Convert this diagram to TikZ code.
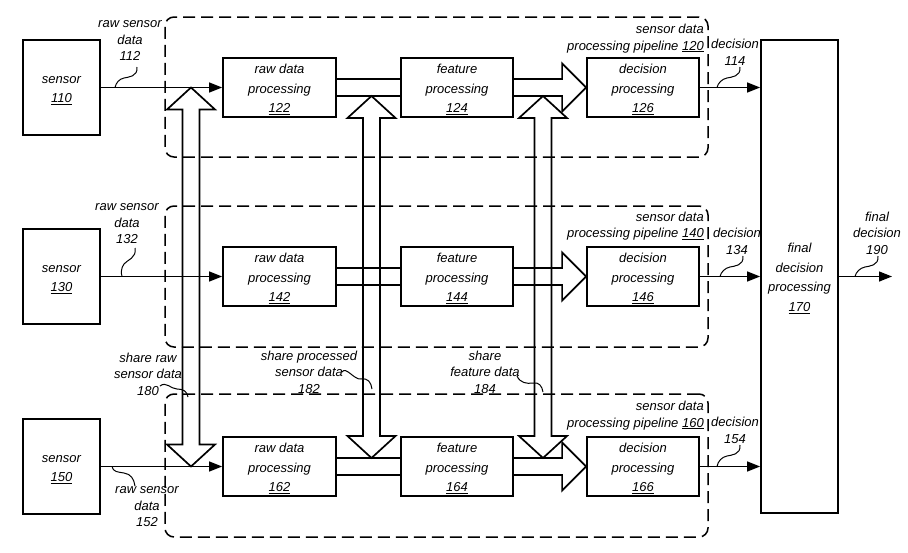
\documentclass[tikz,border=0pt]{standalone}
\usepackage{fontspec}
\setmainfont{Liberation Sans}
\usetikzlibrary{arrows.meta,calc}
\newcommand\blockdbl[3]{% x, y of top tip, y of bottom tip
  \draw[blk] (#1,#2) -- ({#1+24},{#2+22}) -- ({#1+8.5},{#2+22}) -- ({#1+8.5},{#3-22})
    -- ({#1+24},{#3-22}) -- (#1,#3) -- ({#1-24},{#3-22}) -- ({#1-8.5},{#3-22})
    -- ({#1-8.5},{#2+22}) -- ({#1-24},{#2+22}) -- cycle;}
\newcommand\tstrut{\rule{0pt}{13.5pt}}
\begin{document}
\begin{tikzpicture}[x=1pt,y=-1pt,
  box/.style={draw,line width=1.8pt,inner sep=0pt,align=center,font=\itshape\fontsize{13}{19.5}\selectfont},
  lbl/.style={inner sep=0pt,align=center,font=\itshape\fontsize{13}{16.5}\selectfont},
  pipe/.style={draw,dash pattern=on 12pt off 6pt,line width=1.5pt,rounded corners=9pt,inner sep=0pt},
  conn/.style={line width=1.4pt,-{Triangle[length=13pt,width=10pt]}},
  blk/.style={line width=1.7pt,line join=miter},
  sq/.style={line width=1pt},
]
\useasboundingbox (0,0) rectangle (908,552);
% pipelines
\node[pipe,minimum width=543pt,minimum height=140pt] (p120) at (436.5,87) {};
\node[pipe,minimum width=543pt,minimum height=141pt] (p140) at (436.5,276.5) {};
\node[pipe,minimum width=543pt,minimum height=143pt] (p160) at (436.5,465.5) {};
% sensors
\node[box,minimum width=77pt,minimum height=95pt] (s110) at (61.5,87.5) {\tstrut sensor\\\underline{110}};
\node[box,minimum width=77pt,minimum height=95pt] (s130) at (61.5,276.5) {\tstrut sensor\\\underline{130}};
\node[box,minimum width=77pt,minimum height=95pt] (s150) at (61.5,466.5) {\tstrut sensor\\\underline{150}};
% processing boxes
\foreach \y/\a/\b/\c/\na/\nb/\nc in {87.5/r122/f124/d126/122/124/126, 276.5/r142/f144/d146/142/144/146, 466.5/r162/f164/d166/162/164/166}{
  \node[box,minimum width=113pt,minimum height=59pt] (\a) at (279.5,\y) {\tstrut raw data\\processing\\\underline{\na}};
  \node[box,minimum width=112pt,minimum height=59pt] (\b) at (457,\y) {\tstrut feature\\processing\\\underline{\nb}};
  \node[box,minimum width=112pt,minimum height=59pt] (\c) at (643,\y) {\tstrut decision\\processing\\\underline{\nc}};
  \draw[blk] ($(\a.east)+(0,-8.5)$) -- ($(\b.west)+(0,-8.5)$);
  \draw[blk] ($(\a.east)+(0,8.5)$) -- ($(\b.west)+(0,8.5)$);
  \draw[blk] ($(\b.east)+(0,-8.5)$) -- ($(\c.west)+(-24,-8.5)$) -- ($(\c.west)+(-24,-24)$)
     -- (\c.west) -- ($(\c.west)+(-24,24)$) -- ($(\c.west)+(-24,8.5)$) -- ($(\b.east)+(0,8.5)$);
}
\node[box,minimum width=77pt,minimum height=473pt] (f170) at (799.5,276.5) {\tstrut final\\decision\\processing\\\underline{170}};
% connectors
\draw[conn] (s110) -- (r122);
\draw[conn] (s130) -- (r142);
\draw[conn] (s150) -- (r162);
\draw[conn] (d126.east) -- (d126.east -| f170.west);
\draw[conn] (d146.east) -- (d146.east -| f170.west);
\draw[conn] (d166.east) -- (d166.east -| f170.west);
\coordinate (o190) at (892,276.5);
\draw[conn] (f170.east |- o190) -- (o190);
% block double arrows
\blockdbl{191}{87.5}{466.5}
\blockdbl{371.5}{96}{458}
\blockdbl{543}{96}{458}
% labels
\node[lbl] (l112) at (130,41) {raw sensor\\data\\112};
\node[lbl] (l132) at (127,224) {raw sensor\\data\\132};
\node[lbl] (l152) at (147,507) {raw sensor\\data\\152};
\node[lbl] (l180) at (148,374) {share raw\\sensor data\\180};
\node[lbl] (l182) at (309,372) {share processed\\sensor data\\182};
\node[lbl] (l184) at (485,372) {share\\feature data\\184};
\node[lbl] (l114) at (735,52.5) {decision\\114};
\node[lbl] (l134) at (737,241.5) {decision\\134};
\node[lbl] (l154) at (735,430.5) {decision\\154};
\node[lbl] (l190) at (877,233) {final\\decision\\190};
\node[lbl,anchor=east,align=right] (l120) at (704,38.5) {sensor data\\processing pipeline \underline{120}};
\node[lbl,anchor=east,align=right] (l140) at (704,226) {sensor data\\processing pipeline \underline{140}};
\node[lbl,anchor=east,align=right] (l160) at (704,415.5) {sensor data\\processing pipeline \underline{160}};
% squiggles
\draw[sq] (137,67) .. controls (138,77) and (128,77) .. (124,78) .. controls (119,79) and (116,83) .. (115,87.5);
\draw[sq] (135,248) .. controls (137,258) and (127,260) .. (124,264) .. controls (121,268) and (121,273) .. (122,276.5);
\draw[sq] (112,466.5) .. controls (113,472) and (118,472) .. (124,473) .. controls (131,474) and (134,479) .. (135,486);
\draw[sq] (160,386) .. controls (166,381) and (171,389) .. (177,389) .. controls (183,389) and (187,391) .. (188,397);
\draw[sq] (342,372) .. controls (346,366) and (354,380) .. (361,379) .. controls (368,378) and (371,382) .. (372,389);
\draw[sq] (517,376) .. controls (520,383) and (527,384) .. (533,383) .. controls (539,382) and (542,386) .. (543,392);
\draw[sq] (740,67) .. controls (741,77) and (731,77) .. (727,78) .. controls (722,79) and (718,83) .. (717,87.5);
\draw[sq] (743,256) .. controls (744,266) and (734,266) .. (730,267) .. controls (725,268) and (721,272) .. (720,276.5);
\draw[sq] (740,445) .. controls (741,455) and (731,455) .. (727,456) .. controls (722,457) and (718,461) .. (717,466.5);
\draw[sq] (878,256) .. controls (879,266) and (869,266) .. (865,267) .. controls (860,268) and (856,272) .. (855,276.5);
\end{tikzpicture}
\end{document}
